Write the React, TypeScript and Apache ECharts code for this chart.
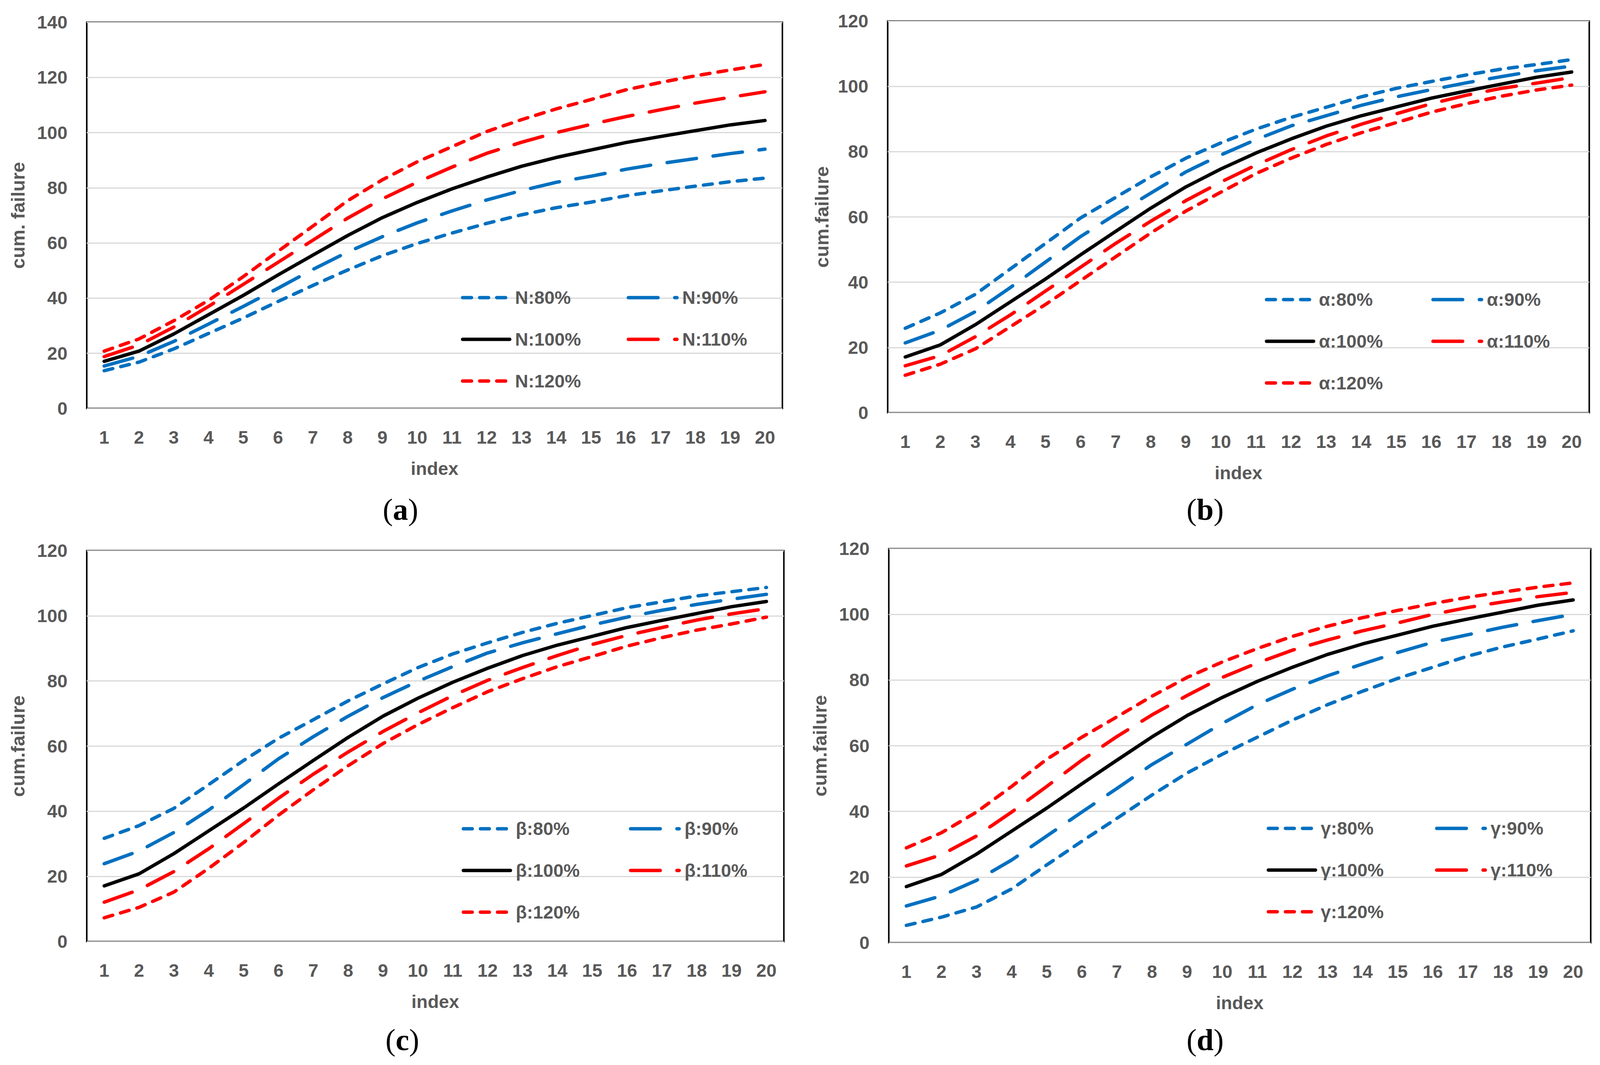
import React, { useEffect, useRef } from "react";
import * as echarts from "echarts";

// ---------- data ----------
const indexLabels = ["1", "2", "3", "4", "5", "6", "7", "8", "9", "10", "11", "12", "13", "14", "15", "16", "17", "18", "19", "20"];
const levelLabels = ["80%", "90%", "100%", "110%", "120%"];
const paramPrefixes = ["N", "α", "β", "γ"];
const yAxisMaxima = [140, 120, 120, 120];
const yAxisTitles = ["cum. failure", "cum.failure", "cum.failure", "cum.failure"];
const panelLetters = ["a", "b", "c", "d"];

// common reference curve (100%) – identical in every panel
const base100 = [17.1, 20.8, 27.0, 34.0, 41.0, 48.4, 55.6, 62.7, 69.2, 74.7, 79.6, 83.9, 87.8, 91.0, 93.7, 96.4, 98.6, 100.7, 102.8, 104.4];

// (a) N
const n80 = [13.7, 16.8, 21.6, 27.2, 32.8, 38.8, 44.6, 50.2, 55.4, 59.8, 63.6, 67.1, 70.2, 72.8, 74.8, 77.1, 78.9, 80.6, 82.2, 83.5];
const n90 = [15.4, 18.9, 24.3, 30.6, 37.0, 43.6, 50.4, 56.7, 62.3, 67.3, 71.6, 75.6, 79.0, 82.0, 84.2, 86.7, 88.8, 90.6, 92.4, 94.0];
const n110 = [18.8, 23.0, 29.5, 37.0, 45.0, 53.0, 61.0, 69.0, 76.0, 82.0, 87.5, 92.5, 96.5, 100.0, 103.0, 105.8, 108.3, 110.7, 112.8, 114.8];
const n120 = [20.8, 25.2, 31.8, 39.2, 47.8, 57.0, 66.1, 75.3, 82.9, 89.4, 94.9, 100.4, 104.7, 108.6, 112.0, 115.5, 118.2, 120.6, 122.7, 124.7];

// (b) alpha
const a80 = [25.9, 30.6, 36.3, 44.1, 51.9, 59.7, 66.0, 72.3, 78.0, 82.7, 86.9, 90.5, 93.6, 96.8, 99.4, 101.5, 103.5, 105.3, 106.7, 108.2];
const a90 = [21.4, 25.3, 31.0, 38.4, 46.2, 54.0, 60.8, 67.3, 73.8, 79.0, 83.7, 87.9, 91.0, 94.2, 96.8, 99.0, 101.1, 103.0, 104.8, 106.2];
const a110 = [14.4, 17.5, 23.3, 30.0, 37.3, 44.6, 51.9, 58.7, 65.0, 70.7, 75.9, 80.6, 84.8, 88.4, 91.6, 94.7, 97.3, 99.4, 101.0, 102.7];
const a120 = [11.5, 14.9, 19.6, 26.4, 33.2, 40.5, 47.8, 55.1, 61.8, 67.6, 73.3, 78.0, 82.2, 85.8, 88.9, 92.1, 94.7, 97.0, 98.9, 100.4];

// (c) beta
const b80 = [31.7, 35.6, 40.9, 48.2, 55.6, 62.4, 68.1, 73.9, 79.1, 84.1, 88.3, 91.7, 94.9, 97.7, 100.1, 102.5, 104.3, 106.1, 107.4, 108.7];
const b90 = [23.9, 27.8, 33.5, 40.4, 48.2, 56.1, 62.9, 69.2, 74.9, 79.9, 84.4, 88.6, 91.7, 94.5, 97.2, 99.6, 101.7, 103.5, 105.1, 106.6];
const b110 = [12.1, 15.9, 21.5, 28.5, 36.2, 44.0, 51.4, 58.2, 64.5, 70.2, 75.5, 80.2, 84.1, 87.8, 91.2, 94.0, 96.4, 98.7, 100.6, 102.2];
const b120 = [7.3, 10.5, 15.2, 22.5, 30.4, 38.8, 46.6, 54.0, 60.8, 66.6, 71.8, 76.7, 80.7, 84.4, 87.5, 90.7, 93.3, 95.6, 97.5, 99.6];

// (d) gamma
const g80 = [5.3, 7.8, 10.9, 16.4, 23.7, 30.9, 37.9, 45.0, 51.7, 57.4, 62.6, 67.8, 72.5, 76.6, 80.5, 83.9, 87.3, 90.1, 92.5, 95.0];
const g90 = [11.2, 14.3, 19.0, 25.2, 32.5, 39.8, 47.0, 54.3, 60.5, 66.8, 72.5, 77.2, 81.3, 84.9, 88.4, 91.5, 93.8, 96.1, 98.1, 100.0];
const g110 = [23.4, 26.8, 32.5, 39.8, 47.6, 55.6, 62.8, 69.4, 75.3, 80.8, 85.2, 89.1, 92.2, 95.0, 97.4, 100.0, 102.1, 103.8, 105.4, 106.7];
const g120 = [28.9, 33.5, 39.8, 47.6, 55.9, 62.6, 68.8, 75.1, 80.8, 85.5, 89.6, 93.3, 96.4, 99.0, 101.2, 103.3, 105.2, 106.8, 108.3, 109.6];

const panelSeries = [
  [n80, n90, base100, n110, n120],
  [a80, a90, base100, a110, a120],
  [b80, b90, base100, b110, b120],
  [g80, g90, base100, g110, g120],
];

// ---------- layout (in reference pixels, 4315 x 2727) & styles ----------
const REF_W = 4315;
const REF_H = 2727;
const FONT = "'Liberation Sans', Arial, Helvetica, sans-serif";
const SERIF = "'Liberation Serif', 'Times New Roman', Times, serif";
const GRAY = "#595959";
const BLUE = "#0070C0";
const RED = "#FF0000";
const BLACK = "#000000";

const layouts = [
  { left: 234, top: 57, width: 1876, height: 989, nameGapY: 160, leg1: 1243, leg2: 1690, legRow: 762, capX: 1080, capY: 1305 },
  { left: 2394, top: 54, width: 1892, height: 1003, nameGapY: 152, leg1: 3411, leg2: 3860, legRow: 767, capX: 3250, capY: 1305 },
  { left: 234, top: 1410, width: 1880, height: 1001, nameGapY: 160, leg1: 1245, leg2: 1696, legRow: 2122, capX: 1085, capY: 2663 },
  { left: 2397, top: 1405, width: 1893, height: 1009, nameGapY: 160, leg1: 3416, leg2: 3870, legRow: 2121, capX: 3250, capY: 2663 },
];

function buildOption(vw: number, vh: number) {
  const sx = vw / REF_W;
  const sy = vh / REF_H;
  const fs = (sx + sy) / 2;
  const X = (v: number) => v * sx;
  const Y = (v: number) => v * sy;
  const F = (v: number) => v * fs;

  const lineW = F(9);
  const dotDash = [X(24), X(22)];
  const longDash = [X(80), X(45)];
  const seriesStyles = [
    { color: BLUE, type: dotDash as any },
    { color: BLUE, type: longDash as any },
    { color: BLACK, type: "solid" as any },
    { color: RED, type: longDash as any },
    { color: RED, type: dotDash as any },
  ];
  const textBase = { color: GRAY, fontFamily: FONT, fontWeight: "bold" as const };

  const grid: any[] = [];
  const xAxis: any[] = [];
  const yAxis: any[] = [];
  const series: any[] = [];
  const legend: any[] = [];
  const graphic: any[] = [];

  layouts.forEach((L, p) => {
    grid.push({
      left: X(L.left),
      top: Y(L.top),
      width: X(L.width),
      height: Y(L.height),
      show: true,
      borderColor: "#000",
      borderWidth: F(4),
      backgroundColor: "transparent",
      containLabel: false,
    });
    xAxis.push({
      gridIndex: p,
      type: "category",
      data: indexLabels,
      boundaryGap: true,
      axisLine: { show: false },
      axisTick: { show: false },
      splitLine: { show: false },
      axisLabel: { ...textBase, fontSize: F(48), margin: Y(50), interval: 0 },
      name: "index",
      nameLocation: "middle",
      nameGap: Y(130),
      nameTextStyle: { ...textBase, fontSize: F(48) },
    });
    yAxis.push({
      gridIndex: p,
      type: "value",
      min: 0,
      max: yAxisMaxima[p],
      interval: 20,
      axisLine: { show: false },
      axisTick: { show: false },
      axisLabel: { ...textBase, fontSize: F(48), margin: X(52) },
      splitLine: { show: true, lineStyle: { color: "#D9D9D9", width: F(3) } },
      name: yAxisTitles[p],
      nameLocation: "middle",
      nameRotate: 90,
      nameGap: X(L.nameGapY),
      nameTextStyle: { ...textBase, fontSize: F(50) },
    });

    const names = levelLabels.map((lv) => `${paramPrefixes[p]}:${lv}`);
    panelSeries[p].forEach((vals, k) => {
      series.push({
        type: "line",
        name: names[k],
        xAxisIndex: p,
        yAxisIndex: p,
        data: vals,
        symbol: "none",
        showSymbol: false,
        smooth: false,
        z: 3 + k,
        lineStyle: {
          color: seriesStyles[k].color,
          width: lineW,
          type: seriesStyles[k].type,
          cap: "round",
          join: "round",
        },
        itemStyle: { color: seriesStyles[k].color },
        emphasis: { disabled: true },
      });
    });

    const itemH = F(48);
    const legendCommon = {
      orient: "vertical",
      top: Y(L.legRow) - itemH / 2,
      itemHeight: itemH,
      itemGap: Y(106.5) - itemH,
      padding: 0,
      selectedMode: false,
      textStyle: { ...textBase, fontSize: F(48), lineHeight: itemH, padding: [0, 0, 0, X(9)] },
      lineStyle: { width: lineW },
      itemStyle: { opacity: 0 },
    };
    legend.push({ ...legendCommon, left: X(L.leg1), itemWidth: X(127), data: [names[0], names[2], names[4]] });
    legend.push({ ...legendCommon, left: X(L.leg2), itemWidth: X(131), data: [names[1], names[3]] });

    graphic.push({
      type: "text",
      x: X(L.capX),
      y: Y(L.capY),
      style: {
        text: `{n|(}{b|${panelLetters[p]}}{n|)}`,
        align: "center",
        verticalAlign: "middle",
        rich: {
          n: { fontFamily: SERIF, fontSize: F(80), fill: "#000", fontWeight: "normal" },
          b: { fontFamily: SERIF, fontSize: F(80), fill: "#000", fontWeight: "bold" },
        },
      },
    });
  });

  return {
    animation: false,
    backgroundColor: "#ffffff",
    grid,
    xAxis,
    yAxis,
    series,
    legend,
    graphic,
  };
}

export default function App() {
  const ref = useRef<HTMLDivElement>(null);
  useEffect(() => {
    const el = ref.current;
    if (!el) return;
    const vw = el.clientWidth || window.innerWidth;
    const vh = el.clientHeight || window.innerHeight;
    const chart = echarts.init(el, undefined, { renderer: "svg", width: vw, height: vh });
    chart.setOption(buildOption(vw, vh) as any);
    return () => chart.dispose();
  }, []);
  return (
    <div
      ref={ref}
      style={{ position: "fixed", left: 0, top: 0, width: "100vw", height: "100vh", background: "#fff" }}
    />
  );
}
